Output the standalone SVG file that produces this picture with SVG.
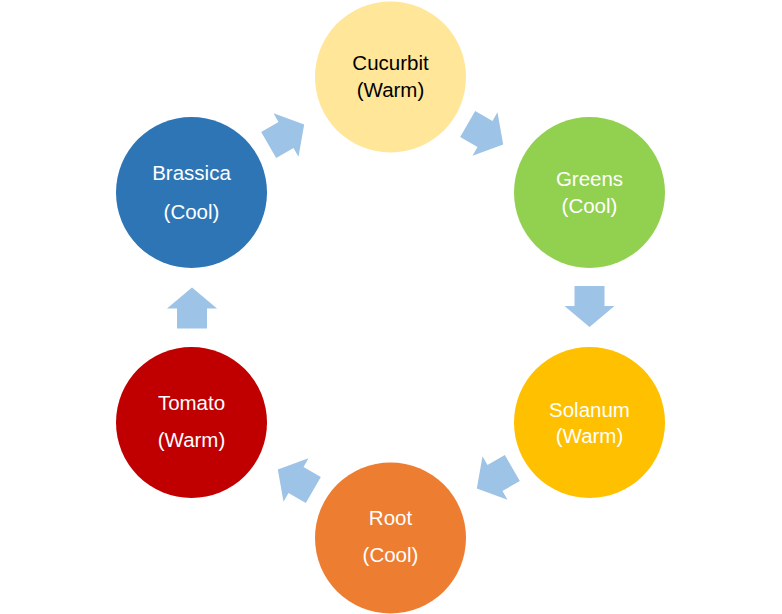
<svg xmlns="http://www.w3.org/2000/svg" width="782" height="614" viewBox="0 0 782 614">
<style>
  .lbl { font-family: "Liberation Sans", Arial, sans-serif; font-size: 20.5px; text-anchor: middle; fill: #ffffff; }
  .dark { fill: #000000; }
  .arr { fill: #9DC3E6; }
</style>
<defs>
  <path id="arrow" d="M-20,-15 L0,-15 L0,-25 L21,0 L0,25 L0,15 L-20,15 Z"/>
</defs>
<rect width="782" height="614" fill="#ffffff"/>
<g id="connectors">
  <use href="#arrow" class="arr" transform="translate(286,135) rotate(-30)"/>
  <use href="#arrow" class="arr" transform="translate(485,134) rotate(30)"/>
  <use href="#arrow" class="arr" transform="translate(589.5,306) rotate(90)"/>
  <use href="#arrow" class="arr" transform="translate(495,478) rotate(150)"/>
  <use href="#arrow" class="arr" transform="translate(296,480) rotate(210)"/>
  <use href="#arrow" class="arr" transform="translate(192,308.5) rotate(-90)"/>
</g>
<g id="cucurbit">
  <circle cx="390.5" cy="77" r="75.5" fill="#FFE699"/>
  <text class="lbl dark" x="390.5" y="70">Cucurbit</text>
  <text class="lbl dark" x="390.5" y="97">(Warm)</text>
</g>
<g id="greens">
  <circle cx="589.5" cy="192.5" r="75.5" fill="#92D050"/>
  <text class="lbl" x="589.5" y="186">Greens</text>
  <text class="lbl" x="589.5" y="213">(Cool)</text>
</g>
<g id="solanum">
  <circle cx="589.5" cy="422.5" r="75.5" fill="#FFC000"/>
  <text class="lbl" x="589.5" y="417">Solanum</text>
  <text class="lbl" x="589.5" y="443">(Warm)</text>
</g>
<g id="root">
  <circle cx="390.5" cy="538" r="75.5" fill="#ED7D31"/>
  <text class="lbl" x="390.5" y="525">Root</text>
  <text class="lbl" x="390.5" y="562">(Cool)</text>
</g>
<g id="tomato">
  <circle cx="191.5" cy="422.5" r="75.5" fill="#C00000"/>
  <text class="lbl" x="191.5" y="410">Tomato</text>
  <text class="lbl" x="191.5" y="447">(Warm)</text>
</g>
<g id="brassica">
  <circle cx="191.5" cy="192.5" r="75.5" fill="#2E75B6"/>
  <text class="lbl" x="191.5" y="180">Brassica</text>
  <text class="lbl" x="191.5" y="219">(Cool)</text>
</g>
</svg>
